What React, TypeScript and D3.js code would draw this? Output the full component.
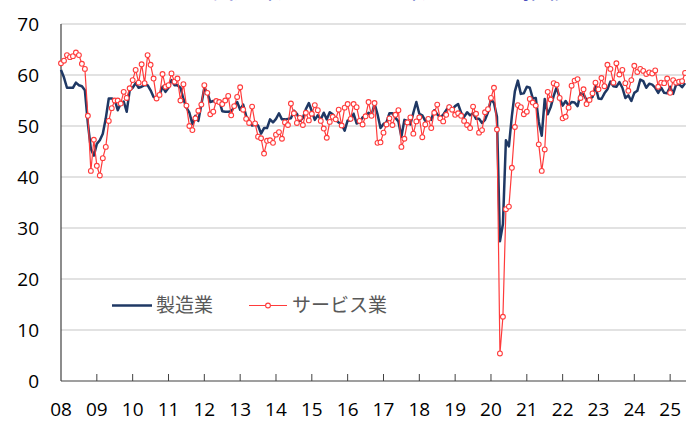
import React from "react";
import * as d3 from "d3";

// Monthly PMI, Jan 2008 – Jun 2025
const manufacturing: number[] = [
  // 2008
  61.0, 59.5, 57.5, 57.5, 57.5, 58.5, 58.0, 57.8, 57.0, 50.5, 45.5, 44.2,
  // 2009
  46.5, 47.2, 48.5, 51.5, 55.4, 55.4, 55.1, 53.1, 54.4, 54.8, 52.8, 57.0,
  // 2010
  57.5, 58.4, 57.5, 57.7, 58.0, 58.0, 57.0, 55.7, 55.4, 56.1, 57.7, 56.7,
  // 2011
  57.5, 59.0, 58.0, 58.0, 57.5, 55.3, 53.6, 52.6, 50.4, 52.0, 51.0, 54.2,
  // 2012
  57.5, 56.6, 54.7, 54.9, 54.8, 55.0, 52.9, 52.8, 52.8, 52.9, 53.7, 54.7,
  // 2013
  53.2, 54.2, 52.0, 51.0, 50.1, 50.3, 50.1, 48.5, 49.6, 49.6, 51.3, 50.7,
  // 2014
  51.4, 52.5, 51.3, 51.3, 51.4, 51.5, 53.0, 52.4, 51.0, 51.6, 53.3, 54.5,
  // 2015
  52.9, 51.2, 52.1, 51.3, 52.6, 51.3, 52.7, 52.3, 51.2, 50.7, 50.3, 49.1,
  // 2016
  51.1, 51.1, 52.4, 50.5, 50.7, 51.7, 51.8, 52.6, 52.1, 54.4, 52.3, 49.6,
  // 2017
  50.4, 50.7, 52.5, 52.5, 51.6, 50.9, 47.9, 51.2, 51.0, 50.3, 52.6, 54.7,
  // 2018
  52.4, 52.1, 51.0, 51.6, 51.2, 53.1, 52.3, 51.7, 52.2, 53.1, 54.0, 53.2,
  // 2019
  53.9, 54.3, 52.6, 51.8, 52.7, 52.1, 52.5, 51.4, 51.4, 50.6, 51.2, 52.7,
  // 2020
  55.3, 54.5, 51.8, 27.4, 30.8, 47.2, 46.0, 52.0, 56.8, 58.9, 56.3, 56.4,
  // 2021
  57.7, 57.5, 55.4, 55.5, 50.8, 48.1, 55.3, 52.3, 53.7, 55.9, 57.6, 55.5,
  // 2022
  54.0, 54.9, 54.0, 54.7, 54.6, 53.9, 56.4, 56.2, 55.1, 55.3, 55.7, 57.8,
  // 2023
  55.4, 55.3, 56.4, 57.2, 58.7, 57.8, 57.7, 58.6, 57.5, 55.5, 56.0, 54.9,
  // 2024
  56.5, 56.9, 59.1, 58.8, 57.5, 58.3, 58.1, 57.5, 56.5, 57.5, 56.5, 56.4,
  // 2025
  57.7, 56.3, 58.1, 58.2, 57.6, 58.4,
];

const services: number[] = [
  // 2008
  62.3, 62.8, 63.9, 63.5, 63.7, 64.4, 63.9, 62.2, 61.2, 52.0, 41.2, 47.3,
  // 2009
  42.2, 40.3, 43.7, 45.9, 51.0, 53.5, 55.0, 55.0, 54.4, 56.7, 55.5, 57.4,
  // 2010
  59.0, 61.0, 58.5, 62.1, 58.4, 63.9, 62.0, 59.3, 55.4, 56.1, 60.2, 57.7,
  // 2011
  58.0, 60.3, 58.7, 59.3, 55.0, 58.2, 54.0, 50.0, 49.2, 51.5, 53.0, 54.2,
  // 2012
  58.0, 56.5, 52.3, 52.8, 54.9, 54.7, 54.3, 55.0, 55.9, 52.1, 53.9, 55.7,
  // 2013
  57.6, 53.2, 51.4, 50.6, 53.8, 50.5, 47.9, 47.6, 44.6, 47.1, 47.2, 46.7,
  // 2014
  48.3, 48.8, 47.5, 50.7, 50.2, 54.4, 52.5, 50.6, 51.6, 50.2, 52.6, 51.1,
  // 2015
  52.4, 54.1, 53.1, 51.0, 49.5, 47.7, 50.8, 51.8, 51.3, 53.2, 50.1, 53.6,
  // 2016
  54.3, 51.4, 54.3, 53.7, 51.0, 50.3, 51.9, 54.7, 52.0, 54.5, 46.7, 46.8,
  // 2017
  48.7, 50.3, 51.5, 50.2, 52.2, 53.1, 45.9, 47.5, 50.7, 51.7, 48.5, 50.9,
  // 2018
  51.7, 47.8, 50.3, 51.4, 49.6, 52.6, 54.2, 51.5, 50.9, 52.2, 53.7, 53.2,
  // 2019
  52.2, 52.5, 52.0, 51.0, 50.2, 49.6, 53.8, 52.4, 48.7, 49.2, 52.7, 53.3,
  // 2020
  55.5, 57.5, 49.3, 5.4, 12.6, 33.7, 34.2, 41.8, 49.8, 54.1, 53.7, 52.3,
  // 2021
  52.8, 55.3, 54.6, 54.0, 46.4, 41.2, 45.4, 56.7, 55.2, 58.4, 58.1, 55.5,
  // 2022
  51.5, 51.8, 53.6, 57.9, 58.9, 59.2, 55.5, 57.2, 54.3, 55.1, 56.4, 58.5,
  // 2023
  57.2, 59.4, 57.8, 62.0, 61.2, 58.5, 62.3, 60.1, 61.0, 58.4, 56.9, 59.0,
  // 2024
  61.8, 60.6, 61.2, 60.8, 60.2, 60.5, 60.3, 60.9, 57.7, 58.5, 58.4, 59.3,
  // 2025
  56.5, 59.0, 58.5, 58.7, 58.8, 60.4,
];

const yearLabels: string[] = [
  "08", "09", "10", "11", "12", "13", "14", "15", "16",
  "17", "18", "19", "20", "21", "22", "23", "24", "25",
];
const yTicks: number[] = [0, 10, 20, 30, 40, 50, 60, 70];
const seriesNames: string[] = ["製造業", "サービス業"];
const titleText = "インドの製造業・サービス業ＰＭＩの推移";

const W = 686;
const H = 422;
const NAVY = "#1f3864";
const RED = "#ff3b3b";

export default function App() {
  const left = 61;
  const step = 2.986;
  const x = d3
    .scaleLinear()
    .domain([0, manufacturing.length - 1])
    .range([left, left + step * (manufacturing.length - 1)]);
  const y = d3.scaleLinear().domain([0, 70]).range([381, 24]);

  const line = d3
    .line<number>()
    .x((_, i) => x(i))
    .y((d) => y(d));

  const labelFont = "'Open Sans', 'Noto Sans', sans-serif";
  const cjkFont = "'Noto Sans CJK JP', sans-serif";

  return (
    <svg
      width={W}
      height={H}
      viewBox={`0 0 ${W} ${H}`}
      style={{ position: "absolute", left: 0, top: 0, background: "#fff" }}
    >
      {/* title, cropped at the top edge as in the source */}
      <text x={114} y={-2} fontFamily={cjkFont} fontSize={24} fill="#2222b0">
        {titleText}
      </text>

      {/* gridlines */}
      {yTicks
        .filter((t) => t > 0)
        .map((t) => (
          <line
            key={t}
            x1={left}
            x2={W}
            y1={y(t)}
            y2={y(t)}
            stroke="#d9d9d9"
            strokeWidth={1.5}
          />
        ))}

      {/* y labels */}
      {yTicks.map((t) => (
        <text
          key={t}
          x={39}
          y={y(t)}
          dy="0.36em"
          textAnchor="end"
          fontFamily={labelFont}
          fontSize={19}
          fill="#000"
        >
          {t}
        </text>
      ))}

      {/* axes */}
      <line x1={left} x2={left} y1={y(70)} y2={y(0)} stroke="#404040" strokeWidth={1.2} />
      <line x1={left} x2={W} y1={y(0)} y2={y(0)} stroke="#404040" strokeWidth={1.2} />
      {yearLabels.map((lab, k) => {
        const xx = x(k * 12);
        return (
          <g key={lab}>
            {k > 0 && (
              <line x1={xx} x2={xx} y1={y(0) - 7} y2={y(0)} stroke="#404040" strokeWidth={1} />
            )}
            <text
              x={xx}
              y={416}
              textAnchor="middle"
              fontFamily={labelFont}
              fontSize={19}
              fill="#000"
            >
              {lab}
            </text>
          </g>
        );
      })}

      {/* manufacturing line */}
      <path d={line(manufacturing) || ""} fill="none" stroke={NAVY} strokeWidth={2.5} strokeLinejoin="round" />

      {/* services line + markers */}
      <path d={line(services) || ""} fill="none" stroke={RED} strokeWidth={1.2} strokeLinejoin="round" />
      {services.map((v, i) => (
        <circle key={i} cx={x(i)} cy={y(v)} r={2.4} fill="#fff" stroke={RED} strokeWidth={1.1} />
      ))}

      {/* legend */}
      <line x1={112} x2={152} y1={305.5} y2={305.5} stroke={NAVY} strokeWidth={2.5} />
      <text x={156} y={312} fontFamily={cjkFont} fontSize={19} fill="#595959">
        {seriesNames[0]}
      </text>
      <line x1={249} x2={287} y1={305.5} y2={305.5} stroke={RED} strokeWidth={1.2} />
      <circle cx={268} cy={305.5} r={2.4} fill="#fff" stroke={RED} strokeWidth={1.1} />
      <text x={292} y={312} fontFamily={cjkFont} fontSize={19} fill="#595959">
        {seriesNames[1]}
      </text>
    </svg>
  );
}
